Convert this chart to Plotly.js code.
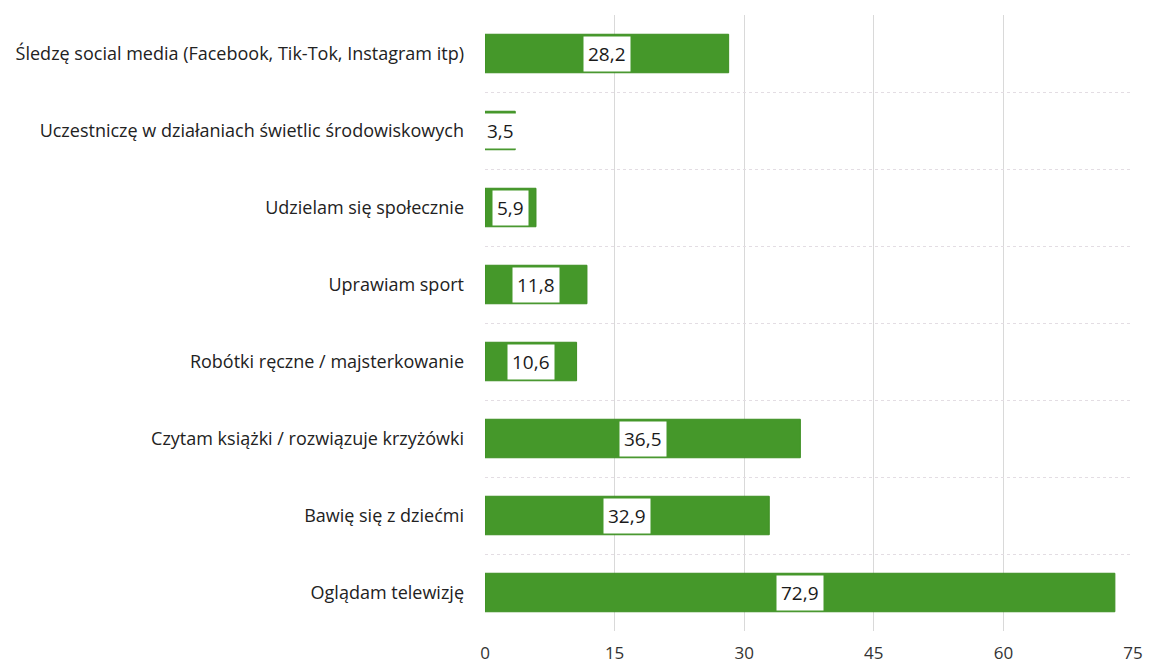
<!DOCTYPE html>
<html><head><meta charset="utf-8">
<script src="https://cdn.plot.ly/plotly-3.0.1.min.js"></script>
<style>body{margin:0;background:#fff}#chart{width:1149px;height:668px}</style>
</head><body><div id="chart"></div>
<script>
const categories = [
  "Śledzę social media (Facebook, Tik-Tok, Instagram itp)",
  "Uczestniczę w działaniach świetlic środowiskowych",
  "Udzielam się społecznie",
  "Uprawiam sport",
  "Robótki ręczne / majsterkowanie",
  "Czytam książki / rozwiązuje krzyżówki",
  "Bawię się z dziećmi",
  "Oglądam telewizję"
];
const values = [28.2, 3.5, 5.9, 11.8, 10.6, 36.5, 32.9, 72.9];
const valueLabels = ["28,2", "3,5", "5,9", "11,8", "10,6", "36,5", "32,9", "72,9"];
const xTicks = [0, 15, 30, 45, 60, 75];

const annotations = categories.map((c, i) => ({
  x: values[i] / 2, y: c, xref: 'x', yref: 'y',
  text: valueLabels[i], showarrow: false,
  bgcolor: '#ffffff', borderpad: 4,
  font: {family: 'Open Sans, sans-serif', size: 19, color: '#1a1a1a'}
}));

Plotly.newPlot('chart', [{
  type: 'bar', orientation: 'h',
  x: values, y: categories,
  width: 0.5,
  marker: {color: '#45982a', line: {color: '#3d8f22', width: 1}},
  hoverinfo: 'none'
}], {
  width: 1149, height: 668,
  margin: {l: 485, r: 16, t: 15, b: 37},
  paper_bgcolor: '#ffffff', plot_bgcolor: '#ffffff',
  font: {family: 'Open Sans, sans-serif', color: '#222'},
  showlegend: false,
  xaxis: {
    range: [0, 75], tickvals: xTicks, ticktext: xTicks.map(String),
    showgrid: true, gridcolor: '#d9d9d9', gridwidth: 1,
    zeroline: false, showline: false,
    tickfont: {size: 17, color: '#333'}, ticklabelstandoff: 10
  },
  yaxis: {
    type: 'category', autorange: 'reversed',
    tickson: 'boundaries', showgrid: true, gridcolor: '#e3dde3', griddash: 'dot',
    showline: false, zeroline: false, ticks: '',
    tickfont: {size: 18, color: '#222'}, ticklabelstandoff: 20
  },
  annotations: annotations
}, {displayModeBar: false, staticPlot: true});
</script></body></html>
